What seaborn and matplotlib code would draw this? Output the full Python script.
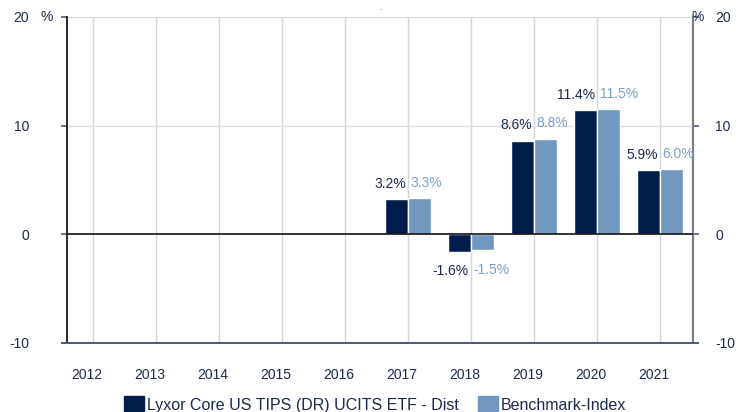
import numpy as np
import pandas as pd
import matplotlib
matplotlib.use("Agg")
import matplotlib.pyplot as plt
import matplotlib.transforms as mtransforms
import seaborn as sns

years = ["2012", "2013", "2014", "2015", "2016", "2017", "2018", "2019", "2020", "2021"]
fund = [np.nan, np.nan, np.nan, np.nan, np.nan, 3.2, -1.6, 8.6, 11.4, 5.9]
bench = [np.nan, np.nan, np.nan, np.nan, np.nan, 3.3, -1.5, 8.8, 11.5, 6.0]
series_names = ["Lyxor Core US TIPS (DR) UCITS ETF - Dist", "Benchmark-Index"]
yticks = [-10, 0, 10, 20]

dark = "#001C4B"
light = "#7098BE"
txt_dark = "#1E2A4C"
txt_light = "#7DA0C6"

df = pd.DataFrame({
    "year": years * 2,
    "value": fund + bench,
    "series": [series_names[0]] * len(years) + [series_names[1]] * len(years),
})

sns.set_style("white")
plt.rcParams["font.family"] = ["Liberation Sans", "DejaVu Sans"]

fig = plt.figure(figsize=(7.36, 4.12), dpi=100)
ax = fig.add_axes([66.7 / 736, 1 - 342.7 / 412, (692.7 - 66.7) / 736, (342.7 - 17) / 412])

sns.barplot(data=df.dropna(), x="year", y="value", hue="series", order=years,
            hue_order=series_names, palette=[dark, light], width=0.72,
            saturation=1, ax=ax, legend=True, zorder=3)

ax.set_xlim(-0.42, 9.52)
ax.set_ylim(-10, 20)
ax.set_yticks(yticks)
ax.set_yticklabels([str(v) for v in yticks])
ax.set_xlabel("")
ax.set_ylabel("")

# grid
for i in range(len(years)):
    ax.axvline(i, color="#D6D6D6", lw=1.0, zorder=0)
for v in [10, 20]:
    ax.axhline(v, color="#DDDDDD", lw=1.0, zorder=0)
ax.axhline(0, color="#111111", lw=1.2, zorder=4)

# spines
ax.spines["top"].set_visible(False)
ax.spines["left"].set_color("#1A1A1A")
ax.spines["left"].set_linewidth(1.3)
ax.spines["right"].set_visible(True)
ax.spines["right"].set_color("#7F7F7F")
ax.spines["right"].set_linewidth(1.6)
ax.spines["bottom"].set_color("#4A5B7D")
ax.spines["bottom"].set_linewidth(1.2)
ax.plot([-0.49, 9.6], [-10, -10], color="#4A5B7D", lw=1.2, clip_on=False, zorder=5)

ax.tick_params(axis="y", which="both", left=True, right=True, labelleft=True,
               labelright=True, direction="out", length=4, width=1.2,
               color="#4A5B7D", labelsize=10, labelcolor=txt_dark, pad=23)
ax.tick_params(axis="x", bottom=False, length=0, pad=18, labelsize=10, labelcolor=txt_dark)
offset = mtransforms.ScaledTranslation(-6 / 100, 0, fig.dpi_scale_trans)
for lab in ax.get_xticklabels():
    lab.set_transform(lab.get_transform() + offset)
# right labels closer to the axis
roff = mtransforms.ScaledTranslation(-15 / 100, 0, fig.dpi_scale_trans)
for t in ax.yaxis.get_major_ticks():
    t.label2.set_transform(t.label2.get_transform() + roff)

# value labels
for ci, cont in enumerate(ax.containers):
    for p in cont.patches:
        h = p.get_height()
        if np.isnan(h):
            continue
        if ci == 0:
            x = p.get_x() + p.get_width()
            dx, ha, col = -1.5, "right", txt_dark
        else:
            x = p.get_x()
            dx, ha, col = 2, "left", txt_light
        if h >= 0:
            dy, va = 6, "bottom"
        else:
            dy, va = -9, "top"
        ax.annotate(f"{h:.1f}%", (x, h), xytext=(dx, dy), textcoords="offset points",
                    ha=ha, va=va, fontsize=10, color=col, zorder=6)

# percent signs
fig.text(47 / 736, 1 - 17 / 412, "%", ha="center", va="center", fontsize=10, color=txt_dark)
fig.text(698 / 736, 1 - 17 / 412, "%", ha="center", va="center", fontsize=10, color=txt_dark)
fig.text(380 / 736, 1 - 9 / 412, ".", ha="center", va="center", fontsize=5, color="#333333")

# legend
ax.legend_.remove()
handles = [plt.Rectangle((0, 0), 1, 1, color=dark), plt.Rectangle((0, 0), 1, 1, color=light)]
fig.legend(handles, series_names, loc="center", bbox_to_anchor=(375 / 736, 1 - 405 / 412),
           ncol=2, frameon=False, fontsize=11.5, handlelength=1.25, handleheight=1.3,
           handletextpad=0.2, columnspacing=1.2, borderaxespad=0, borderpad=0,
           labelcolor=txt_dark)

fig.savefig("out.png", dpi=100)
